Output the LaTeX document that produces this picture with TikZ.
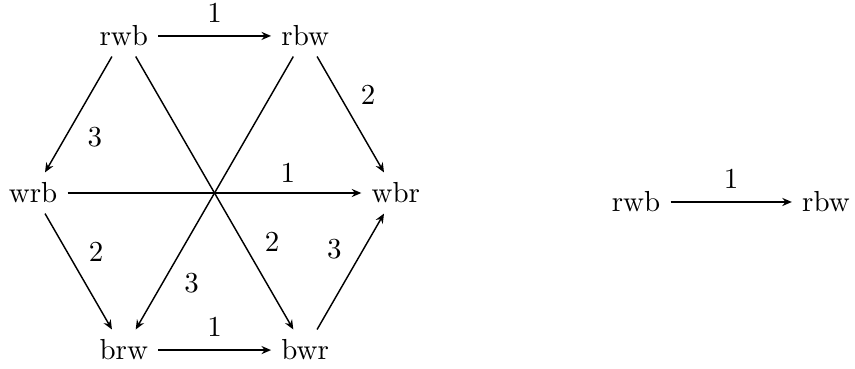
\documentclass[tikz,border=0pt]{standalone}
\usepackage{tikz}
\usetikzlibrary{arrows.meta, positioning}

\begin{document}
\begin{tikzpicture}[>={Stealth[length=3.3pt, width=2.8pt, inset=1.1pt]}, line width=0.5pt, lbl/.style={font=\normalsize}]
	\useasboundingbox (-2.602,-2.123) rectangle (7.769,2.341);
	
	% Hexagon of orderings
	\foreach \n/\a in {rwb/120, rbw/60, wbr/0, bwr/-60, brw/-120, wrb/180} {
		\node (\n) at (\a:2.2) {\n};
	}
	
	% Outer edges
	\draw[->] (rwb) -- (rbw) node[midway, above=1pt, lbl] {1};
	\draw[->] (rbw) -- (wbr) node[pos=0.5, above right, lbl] {2};
	\draw[->] (rwb) -- (wrb) node[pos=0.52, below right, lbl] {3};
	\draw[->] (wrb) -- (brw) node[pos=0.5, above right, lbl] {2};
	\draw[->] (brw) -- (bwr) node[midway, above=1pt, lbl] {1};
	\draw[->] (bwr) -- (wbr) node[pos=0.52, above left, lbl] {3};
	
	% Edges through the centre
	\draw[->] (wrb) -- (wbr) node[pos=0.75, above, lbl] {1};
	\draw[->] (rwb) -- (bwr) node[pos=0.68, right=4pt, lbl] {2};
	\draw[->] (rbw) -- (brw) node[pos=0.83, right=4pt, lbl] {3};
	
	% Single step
	\node (rwb2) at (5.113,-0.109) {rwb};
	\node (rbw2) at (7.417,-0.109) {rbw};
	\draw[->] (rwb2) -- (rbw2) node[midway, above=1pt, lbl] {1};
\end{tikzpicture}
\end{document}
